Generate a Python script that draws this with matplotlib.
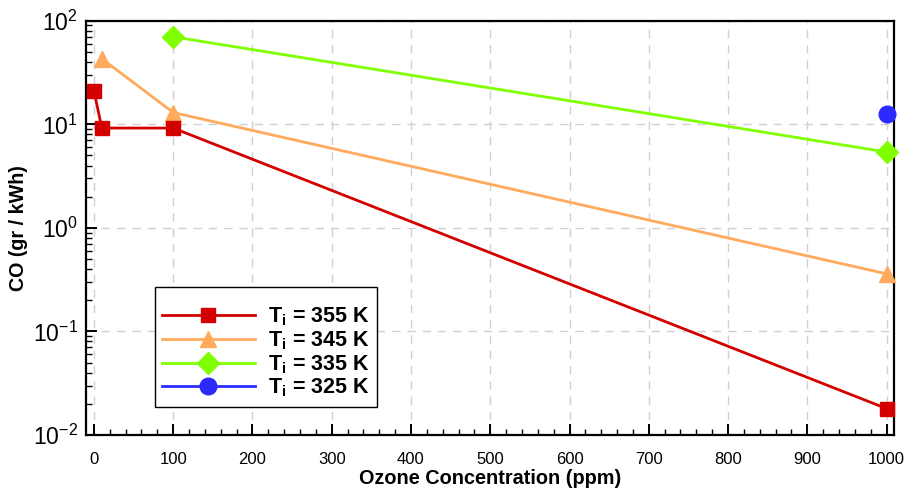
import matplotlib
matplotlib.use("Agg")
import matplotlib.pyplot as plt
from matplotlib.ticker import LogLocator, MultipleLocator, LogFormatterSciNotation, NullFormatter

plt.rcParams['font.family'] = ['Liberation Sans', 'DejaVu Sans']
plt.rcParams['mathtext.fontset'] = 'custom'
plt.rcParams['mathtext.rm'] = 'Liberation Sans'
plt.rcParams['mathtext.bf'] = 'Liberation Sans:bold'
plt.rcParams['mathtext.it'] = 'Liberation Sans:italic'
plt.rcParams['axes.unicode_minus'] = False

# Data
x_355 = [0, 10, 100, 1000]
y_355 = [21, 9.2, 9.2, 0.018]
x_345 = [10, 100, 1000]
y_345 = [43, 13, 0.36]
x_335 = [100, 1000]
y_335 = [70, 5.4]
x_325 = [1000]
y_325 = [12.6]
labels = [r'$\mathbf{T_i}$ = 355 K', r'$\mathbf{T_i}$ = 345 K',
          r'$\mathbf{T_i}$ = 335 K', r'$\mathbf{T_i}$ = 325 K']
xticks = list(range(0, 1001, 100))

fig = plt.figure(figsize=(9.11, 4.94), dpi=100)
ax = fig.add_axes([0.0944, 0.1194, 0.8866, 0.8386])

ax.plot(x_355, y_355, color='#d40000', lw=2, marker='s', ms=10, label=labels[0], zorder=5, clip_on=False)
ax.plot(x_345, y_345, color='#ffaa5c', lw=2, marker='^', ms=12, label=labels[1], zorder=4, clip_on=False)
ax.plot(x_335, y_335, color='#7fff00', lw=2, marker='D', ms=11, label=labels[2], zorder=4, clip_on=False)
ax.plot(x_325, y_325, color='#2b2bff', lw=2, marker='o', ms=12, label=labels[3], zorder=4, clip_on=False)

ax.set_yscale('log')
ax.set_ylim(1e-2, 1e2)
ax.set_xlim(-10, 1009)
ax.set_xticks(xticks)
ax.xaxis.set_minor_locator(MultipleLocator(20))
ax.yaxis.set_major_locator(LogLocator(base=10, numticks=10))
ax.yaxis.set_minor_locator(LogLocator(base=10, subs=range(2, 10), numticks=20))
ax.yaxis.set_major_formatter(LogFormatterSciNotation())
ax.yaxis.set_minor_formatter(NullFormatter())

ax.grid(True, which='major', color='#d0d0d0', linestyle=(0, (6, 5)), lw=1)
ax.set_axisbelow(True)

for s in ax.spines.values():
    s.set_linewidth(1.6)

ax.tick_params(which='major', direction='in', length=8, width=1.4,
               top=False, right=False)
ax.tick_params(which='minor', direction='in', length=4, width=1, top=False, right=False)
ax.tick_params(axis='x', labelsize=12, pad=12)
ax.tick_params(axis='y', labelsize=16.5, pad=6)

ax.set_xlabel('Ozone Concentration (ppm)', fontsize=14.3, fontweight='bold', labelpad=2)
ax.set_ylabel('CO (gr / kWh)', fontsize=14.2, fontweight='bold', labelpad=3)

leg = ax.legend(loc='lower left', bbox_to_anchor=(0.085, 0.068),
                prop={'weight': 'bold', 'size': 15.5}, handlelength=4.3,
                title=' ', title_fontproperties={'size': 8},
                fancybox=False, edgecolor='black', framealpha=1,
                borderpad=0.35, labelspacing=0.05, handletextpad=0.6,
                borderaxespad=0)
leg.get_frame().set_linewidth(1)

fig.savefig('out.png', dpi=100)
